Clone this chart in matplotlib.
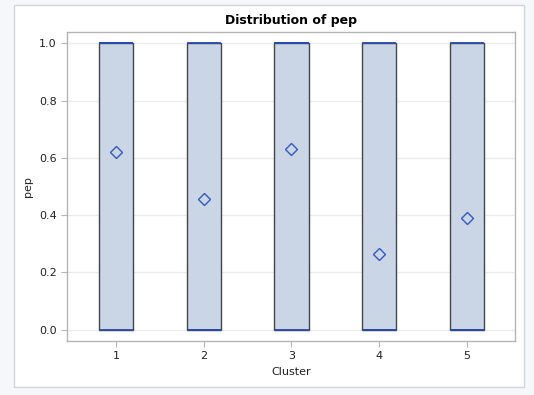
import matplotlib
matplotlib.use("Agg")
import matplotlib.pyplot as plt
from matplotlib.patches import Rectangle

# data
clusters = [1, 2, 3, 4, 5]
q1 = [0, 0, 0, 0, 0]
q3 = [1, 1, 1, 1, 1]
medians = [1, 0, 1, 0, 0]
means = [0.62, 0.455, 0.63, 0.265, 0.39]
yticks = [0.0, 0.2, 0.4, 0.6, 0.8, 1.0]

fig = plt.figure(figsize=(5.34, 3.95), dpi=100)
fig.patch.set_facecolor("#f6f7fb")

# white inner panel like the SAS output frame
panel = Rectangle((14 / 534, 8 / 395), 510 / 534, 382 / 395,
                  transform=fig.transFigure, facecolor="white",
                  edgecolor="#d3d5dc", linewidth=1.0, zorder=-5)
fig.patches.append(panel)

ax = fig.add_axes([67 / 534, 1 - 341 / 395, 448 / 534, 309 / 395])
ax.set_facecolor("white")

stats = []
for i in range(len(clusters)):
    stats.append({"q1": q1[i], "q3": q3[i], "med": medians[i],
                  "whislo": q1[i], "whishi": q3[i], "mean": means[i]})

ax.bxp(stats, positions=clusters, widths=0.39, capwidths=0.37,
       patch_artist=True, showmeans=True, showfliers=False,
       boxprops=dict(facecolor="#cad5e6", edgecolor="#454545", linewidth=1.0),
       medianprops=dict(color="#2a4aa8", linewidth=1.3),
       whiskerprops=dict(color="#454545", linewidth=1.0),
       capprops=dict(color="#2a4aa8", linewidth=1.3),
       meanprops=dict(marker="D", markerfacecolor="none",
                      markeredgecolor="#3559b8", markersize=6,
                      markeredgewidth=1.0))

ax.set_xlim(0.44, 5.55)
ax.set_ylim(-0.04, 1.04)
ax.set_yticks(yticks)
ax.set_yticklabels(["%.1f" % t for t in yticks])
ax.set_xticks(clusters)
ax.set_xticklabels([str(c) for c in clusters])
ax.yaxis.grid(True, color="#ebebeb", linewidth=1.0)
ax.set_axisbelow(True)

for s in ax.spines.values():
    s.set_color("#b4b4b4")
    s.set_linewidth(1.0)
ax.tick_params(colors="#b4b4b4", labelcolor="#222222", labelsize=8, length=4)

ax.set_xlabel("Cluster", fontsize=8, color="#222222")
ax.set_ylabel("pep", fontsize=8, color="#222222")
ax.set_title("Distribution of pep", fontsize=9, fontweight="bold", pad=6)

fig.savefig("out.png", dpi=100, facecolor=fig.get_facecolor())
